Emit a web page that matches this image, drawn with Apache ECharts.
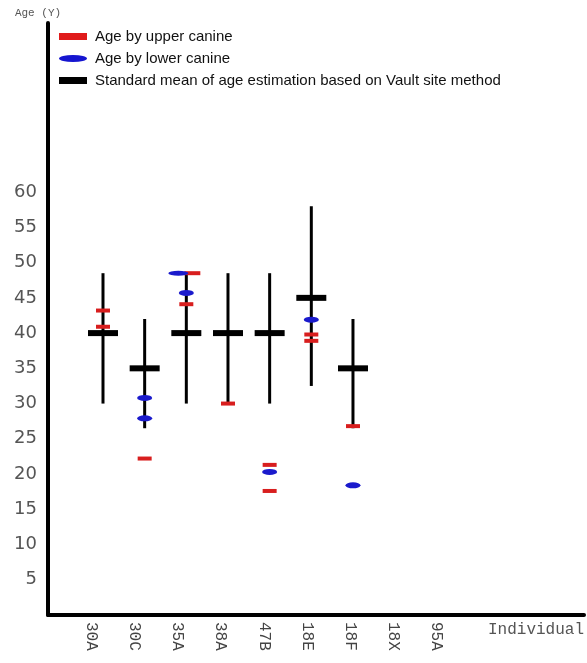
<!DOCTYPE html>
<html>
<head>
<meta charset="utf-8">
<script src="https://cdn.jsdelivr.net/npm/echarts@6/dist/echarts.min.js"></script>
<style>html,body{margin:0;padding:0;background:#fff}#c{width:587px;height:663px}</style>
</head>
<body>
<div id="c"></div>
<script>
// ---- data ----
const categories = ['30A', '30C', '35A', '38A', '47B', '18E', '18F', '18X', '95A'];
const meanAge   = [40, 35, 40, 40, 40, 45, 35, null, null];
const rangeLow  = [30, 26.5, 30, 30, 30, 32.5, 26.5, null, null];
const rangeHigh = [48.5, 42, 48.5, 48.5, 48.5, 58, 42, null, null];

const upperCat = ['30A', '30A', '30C', '35A', '35A', '38A', '47B', '47B', '18E', '18E', '18F'];
const upperAge = [43.2, 40.9, 22.2, 48.5, 44.1, 30, 21.3, 17.6, 39.8, 38.9, 26.8];

const lowerCat = ['30C', '30C', '35A', '35A', '47B', '18E', '18F'];
const lowerAge = [30.8, 27.9, 48.5, 45.7, 20.3, 41.9, 18.4];

const yTickLabels = [5, 10, 15, 20, 25, 30, 35, 40, 45, 50, 55, 60];

const seriesNames = [
  'Age by upper canine',
  'Age by lower canine',
  'Standard mean of age estimation based on Vault site method'
];

// ---- build ----
const idx = c => categories.indexOf(c) + 1;
const key = (c, a) => c + '|' + a;
const upperKeys = new Set(upperCat.map((c, i) => key(c, upperAge[i])));
const lowerKeys = new Set(lowerCat.map((c, i) => key(c, lowerAge[i])));

const upperData = upperCat.map((c, i) => {
  const d = { value: [idx(c), upperAge[i]] };
  if (lowerKeys.has(key(c, upperAge[i]))) { d.symbolOffset = [6, 0]; d.symbolSize = [16, 4]; }
  return d;
});
const lowerData = lowerCat.map((c, i) => {
  const d = { value: [idx(c), lowerAge[i]] };
  if (upperKeys.has(key(c, lowerAge[i]))) { d.symbolOffset = [-8, 0]; d.symbolSize = [20, 5]; }
  return d;
});
const meanData = [];
const rangeData = [];
categories.forEach((c, i) => {
  if (meanAge[i] != null) {
    meanData.push([i + 1, meanAge[i]]);
    rangeData.push([i + 1, rangeLow[i], rangeHigh[i]]);
  }
});

const ellipse = 'path://M0,5A14,5 0 1,1 28,5A14,5 0 1,1 0,5Z';

const chart = echarts.init(document.getElementById('c'), null, { renderer: 'canvas' });
chart.setOption({
  animation: false,
  backgroundColor: '#fff',
  grid: { left: 48, right: 3, top: 23, bottom: 48, containLabel: false },
  legend: {
    orient: 'vertical',
    left: 59,
    top: 28,
    padding: 0,
    itemGap: 5,
    itemWidth: 28,
    itemHeight: 7,
    symbolKeepAspect: false,
    selectedMode: false,
    textStyle: { fontFamily: 'Liberation Sans', fontSize: 15, color: '#111', lineHeight: 17, padding: [0, 0, 0, 3] },
    data: [
      { name: seriesNames[0], icon: 'rect', itemStyle: { color: '#e01b1b' } },
      { name: seriesNames[1], icon: ellipse, itemStyle: { color: '#1515d0' } },
      { name: seriesNames[2], icon: 'rect', itemStyle: { color: '#000' } }
    ]
  },
  xAxis: [
    { // data axis (hidden)
      type: 'value', min: -0.32, max: 12.545, show: false, position: 'top'
    },
    { // label axis
      type: 'value', min: 0, max: 12.42, position: 'bottom',
      name: 'Individual', nameLocation: 'end', nameGap: 0,
      nameTextStyle: { fontFamily: 'Liberation Mono', fontSize: 16, color: '#555', align: 'right', verticalAlign: 'top', padding: [7, 0, 0, 0] },
      axisLine: { show: true, onZero: false, lineStyle: { color: '#000', width: 4 } },
      axisTick: { show: false },
      splitLine: { show: false },
      axisLabel: {
        customValues: categories.map((c, i) => i + 1),
        formatter: v => categories[Math.round(v) - 1] || '',
        rotate: -90,
        margin: 7,
        fontFamily: 'Liberation Mono',
        fontSize: 16,
        color: '#444'
      }
    }
  ],
  yAxis: {
    type: 'value', min: 0, max: 84,
    name: 'Age (Y)', nameLocation: 'end', nameGap: 4,
    nameTextStyle: { fontFamily: 'Liberation Mono', fontSize: 11, color: '#555', align: 'center', padding: [0, 20, 0, 0] },
    axisLine: { show: true, onZero: false, lineStyle: { color: '#000', width: 4 } },
    axisTick: { show: false },
    splitLine: { show: false },
    axisLabel: {
      customValues: yTickLabels,
      margin: 11,
      fontFamily: 'DejaVu Sans',
      fontSize: 18,
      color: '#555'
    }
  },
  series: [
    {
      type: 'custom',
      name: 'range',
      xAxisIndex: 0,
      z: 1,
      silent: true,
      renderItem: (params, api) => {
        const x = api.value(0);
        const lo = api.coord([x, api.value(1)]);
        const hi = api.coord([x, api.value(2)]);
        return { type: 'line', shape: { x1: lo[0], y1: lo[1], x2: hi[0], y2: hi[1] }, style: { stroke: '#000', lineWidth: 3 } };
      },
      encode: { x: 0, y: [1, 2] },
      data: rangeData
    },
    {
      type: 'scatter', name: seriesNames[2], xAxisIndex: 0, z: 3,
      symbol: 'rect', symbolSize: [30, 6],
      itemStyle: { color: '#000', opacity: 1 },
      data: meanData
    },
    {
      type: 'scatter', name: seriesNames[0], xAxisIndex: 0, z: 4,
      symbol: 'rect', symbolSize: [14, 4],
      itemStyle: { color: '#d81e1e', opacity: 1 },
      data: upperData
    },
    {
      type: 'scatter', name: seriesNames[1], xAxisIndex: 0, z: 5,
      symbol: ellipse, symbolSize: [15, 6], symbolKeepAspect: false,
      itemStyle: { color: '#1a1acc', opacity: 1 },
      data: lowerData
    }
  ]
});
</script>
</body>
</html>
